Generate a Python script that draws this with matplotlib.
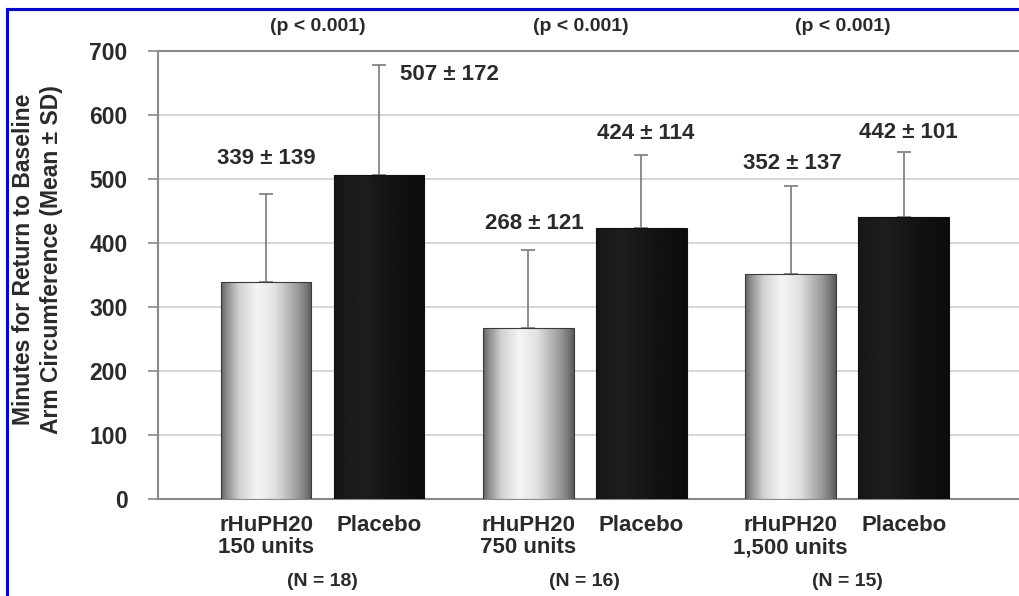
import numpy as np
import matplotlib
matplotlib.use("Agg")
import matplotlib.pyplot as plt
from matplotlib.lines import Line2D

# ---- data ----
groups = ["150 units", "750 units", "1,500 units"]
group_n = [18, 16, 15]
bar_labels = ["rHuPH20\n150 units", "Placebo",
              "rHuPH20\n750 units", "Placebo",
              "rHuPH20\n1,500 units", "Placebo"]
means = [339, 507, 268, 424, 352, 442]
sds = [139, 172, 121, 114, 137, 101]
is_placebo = [False, True, False, True, False, True]
p_text = ["(p < 0.001)", "(p < 0.001)", "(p < 0.001)"]
yticks = [0, 100, 200, 300, 400, 500, 600, 700]

# ---- layout ----
pos = np.array([0.0, 1.0, 2.32, 3.32, 4.64, 5.64])
width = 0.8
# label offsets in pixels (dx, dy) from the top of each error bar
lab_off = [(0, 35), (70, -10), (6, 27), (4, 22), (2, 23), (5, 19)]

plt.rcParams["font.family"] = ["Liberation Sans", "DejaVu Sans"]
plt.rcParams["font.weight"] = "bold"
txt_col = "#2a2a2a"

fig = plt.figure(figsize=(10.19, 5.96), dpi=100)
ax = fig.add_axes([0.155, 0.162, 0.845, 0.7517])

# cylinder-like shading profiles
silver_stops = [0.0, 0.06, 0.2, 0.4, 0.6, 0.85, 0.95, 1.0]
silver_vals = [0.38, 0.55, 0.82, 0.96, 0.88, 0.6, 0.45, 0.35]
black_stops = [0.0, 0.3, 0.7, 1.0]
black_vals = [0.09, 0.12, 0.07, 0.05]
xs = np.linspace(0, 1, 200)
silver = np.interp(xs, silver_stops, silver_vals)[None, :]
black = np.interp(xs, black_stops, black_vals)[None, :]

bars = ax.bar(pos, means, width=width, color="none", edgecolor="none", zorder=3)
for b, plac in zip(bars, is_placebo):
    x0, w, h = b.get_x(), b.get_width(), b.get_height()
    im = ax.imshow(black if plac else silver, cmap="gray", vmin=0, vmax=1,
                   extent=[x0, x0 + w, 0, h], aspect="auto", zorder=3,
                   interpolation="bicubic")
    im.set_clip_path(b)
    ax.add_patch(plt.Rectangle((x0, 0), w, h, fill=False,
                               edgecolor="#3a3a3a" if not plac else "#111111",
                               lw=0.8, zorder=4))

# upper error bars only
ax.errorbar(pos, means, yerr=[np.zeros(len(sds)), sds], fmt="none",
            ecolor="#7a7a7a", elinewidth=1.2, capsize=5, capthick=1.2, zorder=2)

# value labels
for x, m, s, (dx, dy) in zip(pos, means, sds, lab_off):
    ax.annotate(f"{m} \u00b1 {s}", (x, m + s), xytext=(dx * 0.72, dy * 0.72),
                textcoords="offset points", ha="center", va="center",
                fontsize=16, color=txt_col)

ax.set_xlim(-0.956, 6.66)
ax.set_ylim(0, 700)
ax.set_yticks(yticks)
ax.set_yticklabels([str(v) for v in yticks], fontsize=16.5, color=txt_col)
ax.set_xticks(pos)
ax.set_xticklabels(bar_labels, fontsize=16, color=txt_col, linespacing=1.1)
ax.tick_params(axis="x", length=0, pad=11)
ax.tick_params(axis="y", length=7, width=1.2, color="#8a8a8a", pad=15)

ax.grid(axis="y", color="#cfcfcf", lw=1.2, zorder=0)
ax.set_axisbelow(True)
for side in ["left", "bottom", "top"]:
    ax.spines[side].set_color("#8a8a8a")
    ax.spines[side].set_linewidth(1.5)
ax.spines["right"].set_visible(False)

ax.set_ylabel("Minutes for Return to Baseline\nArm Circumference (Mean \u00b1 SD)",
              fontsize=16.5, fontweight="bold", color=txt_col, linespacing=1.3)
ax.yaxis.label.set_va("center")
ax.yaxis.set_label_coords(-0.140, 0.535)

# group annotations
centers = [(pos[2 * i] + pos[2 * i + 1]) / 2 for i in range(len(groups))]
tr = ax.get_xaxis_transform()
for c, p, n in zip(centers, p_text, group_n):
    ax.text(c - 0.04, 1.0547, p, transform=tr, ha="center", va="center",
            fontsize=14, color=txt_col)
    ax.text(c, -0.184, f"(N = {n})", transform=tr, ha="center", va="center",
            fontsize=14, color=txt_col)

# frame on the left and top edges
fig.add_artist(Line2D([7 / 1019, 7 / 1019], [0, 1 - 9 / 596],
                      transform=fig.transFigure, color="#0000ff", lw=2.2))
fig.add_artist(Line2D([7 / 1019, 1], [1 - 9 / 596, 1 - 9 / 596],
                      transform=fig.transFigure, color="#0000ff", lw=2.2))

fig.savefig("out.png", dpi=100)
